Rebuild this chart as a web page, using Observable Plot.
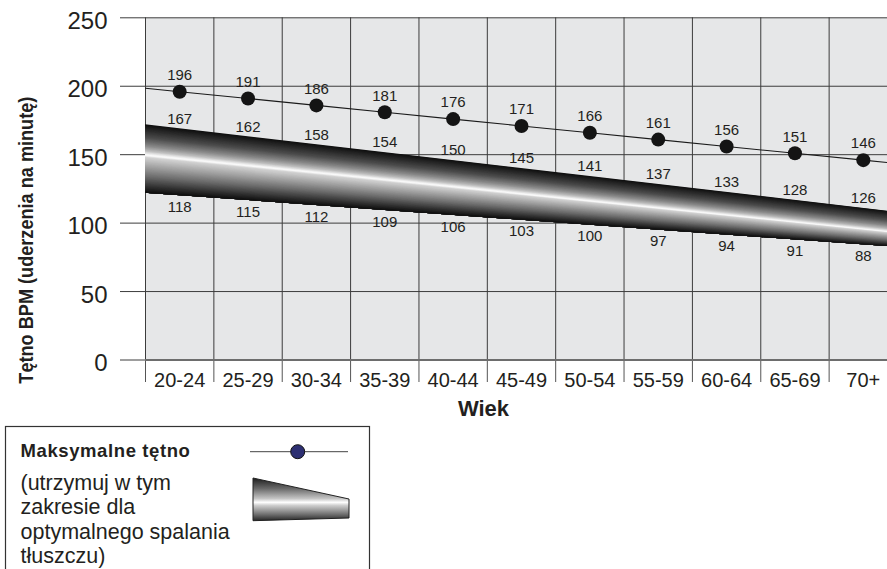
<!DOCTYPE html>
<html>
<head>
<meta charset="utf-8">
<script src="https://cdn.jsdelivr.net/npm/d3@7"></script>
<script src="https://cdn.jsdelivr.net/npm/@observablehq/plot@0.6"></script>
<style>
html, body { margin: 0; padding: 0; background: #fff; overflow: hidden; width: 887px; height: 569px; }
#chart { position: absolute; left: 0; top: 0; }
#legend { position: absolute; left: 0; top: 420px; }
</style>
</head>
<body>
<div id="chart"></div>
<svg id="legend" width="887" height="149" font-family='"Liberation Sans", Arial, Helvetica, sans-serif' fill="#231f20">
  <defs>
    <linearGradient id="legGrad" x1="0" y1="0" x2="0" y2="1">
      <stop offset="0" stop-color="#1e1e1e"/>
      <stop offset="0.25" stop-color="#6a6a6a"/>
      <stop offset="0.48" stop-color="#c4c4c4"/>
      <stop offset="0.57" stop-color="#ffffff"/>
      <stop offset="0.64" stop-color="#cfcfcf"/>
      <stop offset="0.85" stop-color="#707070"/>
      <stop offset="1" stop-color="#262626"/>
    </linearGradient>
  </defs>
  <rect x="5.5" y="6.5" width="364" height="200" fill="none" stroke="#333" stroke-width="1.2"/>
  <text x="20.5" y="37" font-weight="bold" font-size="18.5" letter-spacing="0.6">Maksymalne tętno</text>
  <text font-size="21.5">
    <tspan x="20.5" y="70">(utrzymuj w tym</tspan>
    <tspan x="20.5" y="94.3">zakresie dla</tspan>
    <tspan x="20.5" y="118.6">optymalnego spalania</tspan>
    <tspan x="20.5" y="142.9">tłuszczu)</tspan>
  </text>
  <line x1="250" x2="348" y1="31.7" y2="31.7" stroke="#444" stroke-width="1"/>
  <circle cx="297.7" cy="31.7" r="7" fill="#2d2f72" stroke="#111" stroke-width="1"/>
  <polygon points="253,58 349,79 349,98 253,100.7" fill="url(#legGrad)" stroke="#222" stroke-width="1"/>
</svg>
<script>
// ---- data ----
const ageGroups = ["20-24","25-29","30-34","35-39","40-44","45-49","50-54","55-59","60-64","65-69","70+"];
const maxHR = [196,191,186,181,176,171,166,161,156,151,146];
const zoneUpper = [167,162,158,154,150,145,141,137,133,128,126];
const zoneLower = [118,115,112,109,106,103,100,97,94,91,88];
const yTicks = [0,50,100,150,200,250];
// stylized straight band at the plot's left edge (0) and end of last column (11)
const bandEdgeX = [0, 11];
const bandTopEdge = [171.8, 107.9];
const bandBottomEdge = [121.9, 82.4];
const bandHighlight = [0.45, 0.60];

// ---- styling ----
const FONT = '"Liberation Sans", Arial, Helvetica, sans-serif';
const INK = "#231f20";
const W = 887, H = 432;
const Y0 = 359.5, YTOP = 17.3;

const centers = ageGroups.map((d, i) => i + 0.5);
const bounds = ageGroups.map((d, i) => i);
const lerpEdge = (arr, x) => arr[0] + (arr[1] - arr[0]) * (x - bandEdgeX[0]) / (bandEdgeX[1] - bandEdgeX[0]);

const shade = d3.scaleLinear()
  .domain([0, .22, .35, .43, .48, .5, .53, .67, .8, .91, 1])
  .range(["#0e0e0e","#4d4d4d","#898989","#bcbcbc","#eeeeee","#ffffff","#d2d2d2","#9a9a9a","#666666","#343434","#0e0e0e"]);

const N = 90;
const warp = (s, h) => s < 0.5 ? (s / 0.5) * h : h + ((s - 0.5) / 0.5) * (1 - h);
const bandLayers = d3.range(N).map(k => {
  const s = k / N;
  const pts = bandEdgeX.map((x, j) => ({
    x,
    top: bandTopEdge[j] - (bandTopEdge[j] - bandBottomEdge[j]) * warp(s, bandHighlight[j]),
    bottom: bandBottomEdge[j]
  }));
  return Plot.areaY(pts, {x: "x", y1: "top", y2: "bottom", fill: shade((k + 0.5) / N)});
});

const maxLinePts = [
  {x: 0, y: maxHR[0] + (maxHR[0] - maxHR[1]) / 2},
  ...maxHR.map((v, i) => ({x: centers[i], y: v})),
  {x: 11, y: maxHR[10] + (maxHR[10] - maxHR[9]) / 2}
];

const plot = Plot.plot({
  width: W, height: H,
  marginLeft: 145, marginRight: 0, marginTop: YTOP, marginBottom: H - Y0,
  x: {type: "linear", domain: [0, 11], range: [145, 897], label: null},
  y: {domain: [0, 250], range: [Y0, YTOP], label: null},
  style: {fontFamily: FONT, color: INK, background: "white"},
  marks: [
    Plot.frame({fill: "#e6e7e8", stroke: "none"}),
    Plot.ruleY(yTicks.filter(d => d > 0), {stroke: "#3c3c3c", strokeWidth: 1}),
    Plot.ruleX(bounds, {stroke: "#3c3c3c", strokeWidth: 1}),
    Plot.axisX({ticks: bounds, tickSize: 22.5, tickFormat: () => "", stroke: "#555", label: null}),
    Plot.axisY({ticks: yTicks, tickSize: 25, tickFormat: () => "", stroke: "#3c3c3c", label: null}),
    ...bandLayers,
    Plot.ruleY([0], {stroke: "#6d6d6d", strokeWidth: 2}),
    Plot.line(maxLinePts, {x: "x", y: "y", stroke: "#1a1a1a", strokeWidth: 1.1}),
    Plot.dot(maxHR, {x: (d, i) => centers[i], y: d => d, r: 7, fill: "#141414"}),
    Plot.text(maxHR, {x: (d, i) => centers[i], y: d => d, text: d => String(d), dy: -16.5, fontSize: 15, fill: INK}),
    Plot.text(zoneUpper, {x: (d, i) => centers[i], y: (d, i) => lerpEdge(bandTopEdge, centers[i]), text: d => String(d), dy: -10, fontSize: 15, fill: INK}),
    Plot.text(zoneLower, {x: (d, i) => centers[i], y: (d, i) => lerpEdge(bandBottomEdge, centers[i]), text: d => String(d), dy: 11.5, fontSize: 15, fill: INK}),
    Plot.axisX({ticks: centers, tickSize: 0, tickPadding: 13, tickFormat: d => ageGroups[Math.floor(d)], fontSize: 20, fill: INK, label: null}),
    Plot.axisY({ticks: yTicks, tickSize: 0, tickPadding: 38, fontSize: 24, dy: 3.5, fill: INK, label: null}),
    Plot.text(["Tętno BPM (uderzenia na minutę)"], {frameAnchor: "left", rotate: -90, dx: -118.7, dy: 51.25, fontSize: 20, fontWeight: "bold", fill: INK, textAnchor: "middle"}),
    Plot.text(["Wiek"], {frameAnchor: "bottom", dx: -33, dy: 56, fontSize: 22, fontWeight: "bold", fill: INK})
  ]
});
document.getElementById("chart").appendChild(plot);

// condense the rotated axis title to the reference's length
plot.querySelectorAll("text").forEach(t => {
  if (t.textContent.startsWith("Tętno")) {
    t.setAttribute("textLength", 287);
    t.setAttribute("lengthAdjust", "spacingAndGlyphs");
  }
});
</script>
</body>
</html>
